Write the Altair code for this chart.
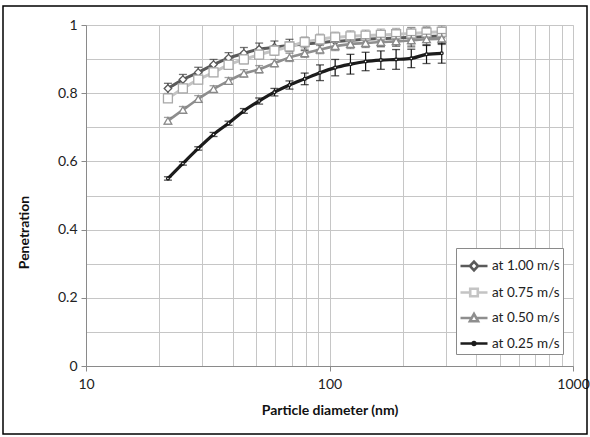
import altair as alt
import pandas as pd

# Particle diameters (nm), 16 channels per decade
diameters = [21.7, 25.0, 28.9, 33.4, 38.5, 44.5, 51.4, 59.4, 68.5, 79.1,
             91.4, 105.5, 121.9, 140.7, 162.5, 187.7, 216.7, 250.3, 289.0]

series_names = ["at 1.00 m/s", "at 0.75 m/s", "at 0.50 m/s", "at 0.25 m/s"]

pen_100 = [0.814, 0.840, 0.861, 0.884, 0.903, 0.917, 0.929, 0.935, 0.940, 0.944,
           0.948, 0.952, 0.955, 0.958, 0.960, 0.962, 0.964, 0.966, 0.968]
err_100 = [0.015, 0.015, 0.015, 0.015, 0.016, 0.017, 0.018, 0.018, 0.018, 0.019,
           0.020, 0.020, 0.021, 0.022, 0.023, 0.024, 0.028, 0.026, 0.025]

pen_075 = [0.785, 0.814, 0.840, 0.861, 0.883, 0.899, 0.913, 0.925, 0.937, 0.950,
           0.958, 0.964, 0.967, 0.969, 0.971, 0.973, 0.975, 0.978, 0.980]
err_075 = [0.012, 0.012, 0.012, 0.012, 0.012, 0.013, 0.013, 0.014, 0.014, 0.015,
           0.015, 0.015, 0.016, 0.016, 0.017, 0.017, 0.018, 0.018, 0.018]

pen_050 = [0.719, 0.751, 0.783, 0.812, 0.836, 0.858, 0.870, 0.888, 0.905, 0.917,
           0.928, 0.938, 0.944, 0.947, 0.950, 0.952, 0.955, 0.958, 0.960]
err_050 = [0.010, 0.010, 0.010, 0.010, 0.010, 0.011, 0.011, 0.011, 0.012, 0.012,
           0.012, 0.013, 0.013, 0.013, 0.014, 0.014, 0.014, 0.015, 0.015]

pen_025 = [0.550, 0.594, 0.638, 0.679, 0.712, 0.748, 0.777, 0.803, 0.824, 0.842,
           0.860, 0.875, 0.885, 0.893, 0.897, 0.899, 0.902, 0.914, 0.917]
err_025 = [0.005, 0.005, 0.005, 0.006, 0.006, 0.007, 0.009, 0.011, 0.012, 0.017,
           0.023, 0.024, 0.029, 0.027, 0.027, 0.029, 0.027, 0.027, 0.029]

x_grid = [10, 20, 30, 40, 50, 60, 70, 80, 90, 100,
          200, 300, 400, 500, 600, 700, 800, 900, 1000]
y_grid = [0, 0.1, 0.2, 0.3, 0.4, 0.5, 0.6, 0.7, 0.8, 0.9, 1]

# styling per series: line colour, marker outline, error colour, width, shape
styles = {
    "at 1.00 m/s": dict(line="#5a5a5a", mk="#5a5a5a", eb="#3a3a3a", lw=3.0, shape="diamond", size=55),
    "at 0.75 m/s": dict(line="#c4c4c4", mk="#a9a9a9", eb="#9a9a9a", lw=3.0, shape="square", size=80),
    "at 0.50 m/s": dict(line="#8e8e8e", mk="#8a8a8a", eb="#7a7a7a", lw=2.6, shape="triangle-up", size=60),
    "at 0.25 m/s": dict(line="#1c1c1c", mk="#1c1c1c", eb="#111111", lw=3.2, shape="circle", size=8),
}

values = {"at 1.00 m/s": (pen_100, err_100), "at 0.75 m/s": (pen_075, err_075),
          "at 0.50 m/s": (pen_050, err_050), "at 0.25 m/s": (pen_025, err_025)}

rows = []
for name in series_names:
    pen, err = values[name]
    for d, p, e in zip(diameters, pen, err):
        rows.append({"series": name, "d": d, "p": p, "lo": p - e, "hi": p + e})
df = pd.DataFrame(rows)

FONT = "Lato"
x_scale = alt.Scale(type="log", domain=[10, 1000])
y_scale = alt.Scale(domain=[0, 1])

x_axis = alt.Axis(
    values=x_grid, title="Particle diameter (nm)",
    labelExpr="datum.value == 10 || datum.value == 100 || datum.value == 1000 ? format(datum.value, 'd') : ''",
    labelOverlap=False, labelFlush=False, labelFont=FONT, labelFontSize=14, labelColor="#222",
    labelPadding=6, tickSize=5, tickColor="#8a8a8a",
    tickOpacity={"condition": {"test": "datum.value == 10 || datum.value == 100 || datum.value == 1000", "value": 1}, "value": 0},
    grid=True, gridColor="#c6c6c6", gridWidth=1, domainColor="#8a8a8a",
    titleFont=FONT, titleFontSize=14, titleFontWeight="bold", titleColor="#111",
    titleY=44, titleBaseline="middle",
)
y_axis = alt.Axis(
    values=y_grid, title="Penetration",
    labelExpr="round(datum.value * 10) % 2 == 0 ? format(datum.value, '.1~f') : ''",
    labelOverlap=False, labelFlush=False, labelFont=FONT, labelFontSize=14, labelColor="#222",
    labelPadding=4, tickSize=5, tickColor="#8a8a8a",
    tickOpacity={"condition": {"test": "round(datum.value * 10) % 2 == 0", "value": 1}, "value": 0},
    grid=True, gridColor="#c6c6c6", gridWidth=1, domainColor="#8a8a8a",
    titleFont=FONT, titleFontSize=14, titleFontWeight="bold", titleColor="#111",
    titleX=-62, titleY=207, titleAngle=-90, titleAlign="center", titleBaseline="middle",
)

X = lambda f: alt.X(f, type="quantitative", scale=x_scale, axis=x_axis)
Y = lambda f: alt.Y(f, type="quantitative", scale=y_scale, axis=y_axis)

base = alt.Chart(df)
layers = []
for name in series_names:
    st = styles[name]
    sub = base.transform_filter(alt.datum.series == name)
    line = sub.mark_line(interpolate="monotone", color=st["line"], strokeWidth=st["lw"]).encode(
        x=X("d"), y=Y("p"), order="d:Q",
    )
    bars = sub.mark_rule(color=st["eb"], strokeWidth=1.2).encode(
        x=X("d"), y=Y("lo"), y2="hi:Q",
    )
    cap_lo = sub.mark_tick(color=st["eb"], orient="horizontal", size=8, thickness=1.3).encode(
        x=X("d"), y=Y("lo"),
    )
    cap_hi = sub.mark_tick(color=st["eb"], orient="horizontal", size=8, thickness=1.3).encode(
        x=X("d"), y=Y("hi"),
    )
    pts = sub.mark_point(shape=st["shape"], size=st["size"], filled=False, fill="white",
                         fillOpacity=1, stroke=st["mk"], strokeWidth=1.3, opacity=1).encode(
        x=X("d"), y=Y("p"),
    )
    layers += [line, bars, cap_lo, cap_hi, pts]

# legend symbols: short line with the series marker in its middle
legend_paths = [
    "M-1,0H-0.3M-0.3,0L0,-0.32L0.3,0L0,0.32ZM0.3,0H1",
    "M-1,0H-0.28M-0.28,-0.28H0.28V0.28H-0.28ZM0.28,0H1",
    "M-1,0H-0.22M-0.3,0.24L0,-0.3L0.3,0.24ZM0.22,0H1",
    "M-1,0H-0.1M0.1,0H1M-0.1,0A0.1,0.1 0 1,0 0.1,0A0.1,0.1 0 1,0 -0.1,0Z",
]
legend_spec = alt.Legend(title=None, orient="none", legendX=370, legendY=223,
                         symbolSize=729, symbolStrokeWidth=2.6,
                         symbolFillColor="white", symbolOpacity=1,
                         labelFont=FONT, labelFontSize=13.5, labelColor="#222",
                         labelOffset=3, rowPadding=1.5, padding=3,
                         strokeColor="#8a8a8a", fillColor="white")
legend_layer = base.mark_point(opacity=0, filled=False).encode(
    x=X("d"), y=Y("p"),
    stroke=alt.Stroke("series:N",
                      scale=alt.Scale(domain=series_names,
                                      range=[styles[n]["line"] for n in series_names]),
                      legend=legend_spec),
    shape=alt.Shape("series:N",
                    scale=alt.Scale(domain=series_names, range=legend_paths),
                    legend=legend_spec),
)

# thin black frame around the whole figure
frame = alt.Chart(pd.DataFrame({"k": [0]})).mark_rect(
    fill=None, stroke="black", strokeWidth=1.5, clip=False
).encode(x=alt.value(-83), x2=alt.value(501), y=alt.value(-19), y2=alt.value(409))

chart = alt.layer(*layers, legend_layer, frame).properties(
    width=487, height=341,
    autosize=alt.AutoSizeParams(type="none"),
    padding={"left": 86, "top": 25, "right": 17, "bottom": 71},
).configure_view(stroke=None).configure(background="white")

chart.save("out.html", embed_options={"renderer": "svg", "actions": False})
